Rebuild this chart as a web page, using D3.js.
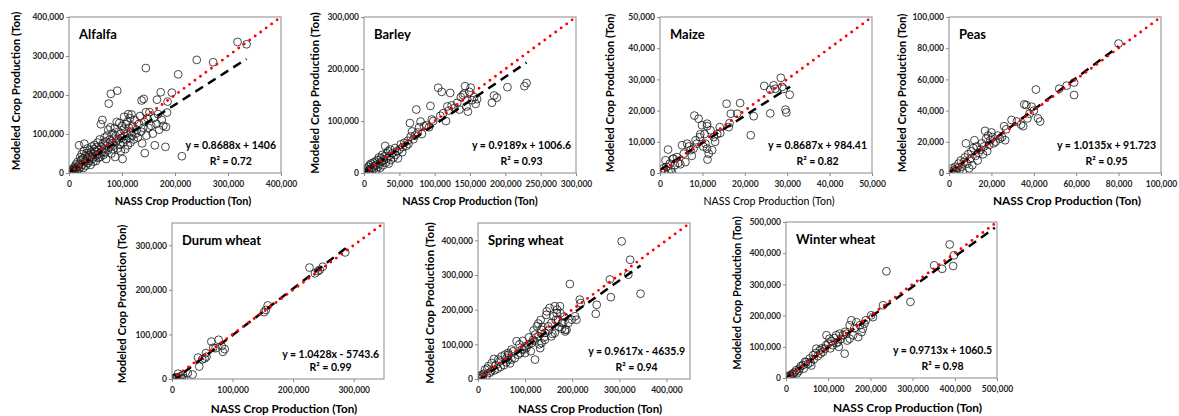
<!DOCTYPE html>
<html>
<head>
<meta charset="utf-8">
<script src="https://cdn.jsdelivr.net/npm/d3@7"></script>
<style>
  body { margin: 0; background: #fff; }
  svg text { font-family: Lato, "Open Sans", sans-serif; font-weight: bold; }
</style>
</head>
<body>
<script>

// points are [NASS, modeled] in thousand tons
var alfalfa = [[1,2],[3,1],[4,6],[5,3],[6,9],[7,4],[8,12],[9,7],[10,3],[11,16],[12,9],[13,22],[14,12],[15,5],[16,28],[17,17],[18,10],[19,71],[20,24],[21,40],[22,15],[23,33],[24,48],[25,21],[26,37],[27,13],[28,56],[29,75],[30,29],[31,43],[32,19],[33,51],[34,36],[35,63],[36,26],[37,45],[38,31],[39,58],[40,41],[41,21],[42,53],[43,68],[44,36],[45,48],[46,29],[47,61],[48,72],[49,42],[50,56],[51,31],[52,66],[53,46],[54,78],[55,39],[56,59],[57,50],[58,86],[59,41],[60,125],[61,68],[62,55],[63,136],[64,76],[65,46],[66,62],[67,91],[68,52],[69,81],[70,36],[71,70],[72,96],[73,58],[74,111],[75,178],[76,65],[77,86],[78,117],[79,203],[80,50],[81,76],[82,101],[83,61],[84,88],[85,71],[86,115],[87,41],[88,95],[89,80],[90,131],[91,211],[92,63],[93,106],[94,86],[95,128],[96,72],[97,100],[98,56],[99,90],[100,121],[101,36],[102,78],[103,111],[104,144],[105,95],[106,61],[107,125],[108,86],[109,101],[110,131],[111,71],[112,151],[113,116],[114,90],[115,141],[116,78],[117,106],[118,150],[119,96],[120,121],[122,86],[124,136],[126,101],[128,111],[130,91],[132,126],[134,146],[136,106],[137,186],[138,76],[140,116],[141,190],[142,131],[143,51],[145,156],[145,269],[146,96],[148,141],[150,116],[152,156],[155,121],[158,101],[160,141],[162,71],[165,126],[166,188],[168,151],[170,111],[173,207],[175,136],[178,121],[182,67],[183,118],[185,155],[186,183],[194,206],[206,253],[213,43],[241,290],[272,284],[318,336],[335,330]];

var barley = [[1,1],[2,4],[3,2],[4,8],[5,3],[6,12],[7,5],[8,15],[9,7],[10,18],[11,3],[12,10],[13,20],[14,8],[15,14],[16,22],[17,6],[18,16],[19,25],[20,12],[21,30],[22,18],[23,10],[24,28],[25,22],[26,35],[27,15],[28,25],[29,32],[30,52],[31,20],[32,38],[33,28],[34,42],[35,18],[36,33],[37,45],[38,25],[40,38],[42,30],[44,48],[45,35],[47,42],[48,28],[50,45],[52,55],[54,40],[55,50],[57,58],[60,52],[62,62],[63,56],[65,96],[66,70],[68,80],[70,65],[72,72],[74,122],[76,78],[78,88],[80,99],[82,75],[85,90],[88,92],[92,88],[94,129],[96,103],[98,100],[105,164],[108,110],[110,156],[112,115],[116,100],[118,128],[120,120],[122,154],[124,130],[128,125],[132,135],[135,122],[137,146],[140,150],[142,153],[143,167],[145,128],[147,118],[149,156],[151,164],[153,140],[156,146],[158,133],[160,142],[181,135],[184,149],[188,145],[203,165],[227,167],[230,173]];

var maize = [[0.3,0.3],[0.8,1.5],[1,0.2],[1.3,4.1],[1.5,2],[1.9,7.5],[2,0.5],[2.3,3],[2.6,1.2],[2.8,0.2],[3,4.5],[3.2,4.6],[3.5,2.5],[4,5.1],[4.3,3.2],[4.8,2.8],[5.2,8.9],[5.6,6.2],[6,3.5],[6.4,9.4],[6.8,8.5],[7.2,7.3],[7.5,5.5],[7.9,7.8],[8.1,18.4],[8.4,10.5],[8.7,9.4],[9.1,17.4],[9.4,11.5],[9.5,12.4],[9.9,15.3],[10.2,8.5],[10.5,12.5],[10.7,9.4],[11.1,15.8],[11.1,15],[11.1,7.8],[11.2,4.3],[11.5,6.2],[11.9,13.7],[12.3,7.3],[12.7,11.5],[13,10],[13.5,12.5],[14.1,14.7],[14.2,12.8],[15.7,22.2],[16.2,14.7],[16.4,16],[16.7,19],[18.2,19],[18.9,22.4],[21.4,12.1],[22.1,18.2],[24.6,27.9],[26,19.1],[26,26.7],[26.8,28.1],[27.2,27],[28.5,30.5],[28.8,27.6],[29.2,27],[29.6,20.3],[29.8,19.4],[30.6,25.1]];

var peas = [[1,1],[1.5,3],[2,0.5],[2.5,2],[3,4],[3.5,1],[4,3],[4.5,6],[5,2],[5.5,8],[6,4],[6.5,1],[7,7],[7.5,10],[8,19],[8.5,6],[9,12],[9.5,3],[10,9],[10.5,14],[11,5],[11.5,16],[12,21],[12.5,11],[13,17],[13.5,8],[14,13],[15,15],[15.5,19],[16,12],[16.5,17],[17,27],[17.5,22],[18,14],[18.5,24],[19,18],[19.5,21],[20,26],[20.5,23],[21,19],[22,20],[23,24],[24,22],[25,23],[26,30],[26.5,21],[27,28],[29.5,34],[32,33],[34,31],[35,30],[35.5,44],[36.5,43.5],[37,35],[38,38],[39,42.5],[40,40],[41,53.5],[42,35],[43,33],[52,54],[55.5,56],[59,58],[59,50],[80,83]];

var durum = [[1,1],[2,0.5],[3,2],[4,1],[5,3],[6,0.5],[7,2],[8,4],[9,1.5],[10,12],[12,3],[14,6],[16,1],[18,9],[20,2],[26,13],[34,10],[43,48],[45,28],[50,44],[54,46],[57,50],[56,58],[65,84],[68,70],[72,69],[77,88],[84,61],[87,67],[82,74],[152,150],[155,155],[158,165],[227,250],[236,237],[241,242],[244,245],[249,252],[286,284]];

var springWheat = [[1,3],[4,8],[5,2],[8,12],[10,6],[12,15],[15,27],[18,10],[20,30],[22,37],[25,18],[28,22],[29,46],[34,58],[35,25],[38,40],[42,30],[43,56],[45,50],[48,35],[50,65],[55,40],[57,70],[60,48],[61,61],[64,75],[64,56],[65,70],[68,45],[71,85],[71,56],[75,80],[78,60],[82,109],[85,70],[88,100],[90,75],[93,85],[95,110],[97,85],[100,94],[100,75],[103,90],[107,99],[108,120],[112,80],[114,104],[117,113],[118,140],[120,110],[121,128],[121,56],[125,152],[128,123],[128,160],[130,100],[132,89],[133,170],[135,142],[135,104],[137,150],[140,120],[142,133],[142,113],[145,185],[146,195],[149,152],[150,140],[152,205],[156,162],[156,123],[158,130],[160,181],[163,210],[163,133],[165,170],[167,190],[168,200],[170,171],[172,150],[174,210],[175,190],[178,162],[178,145],[181,162],[183,180],[185,137],[185,142],[188,142],[192,162],[195,274],[199,171],[206,181],[209,171],[216,229],[218,219],[250,188],[252,214],[280,287],[282,236],[305,397],[319,301],[323,344],[345,246]];

var winterWheat = [[2,1],[5,3],[8,6],[9,9],[12,4],[15,12],[17,14],[20,18],[24,25],[26,15],[30,22],[32,30],[35,38],[40,41],[42,30],[45,52],[48,51],[52,45],[56,62],[58,50],[60,40],[64,73],[66,60],[70,80],[72,94],[75,70],[80,89],[82,78],[85,95],[88,84],[92,94],[95,105],[96,137],[100,110],[103,126],[105,95],[108,118],[111,105],[115,128],[119,137],[120,112],[123,115],[125,100],[127,142],[130,125],[135,137],[139,78],[140,148],[143,142],[145,120],[151,169],[151,126],[155,185],[159,137],[162,160],[167,179],[171,131],[175,169],[179,147],[182,158],[186,174],[189,185],[202,201],[206,195],[230,233],[238,342],[295,244],[351,361],[370,350],[388,428],[396,359],[398,393]];

var cropNames = ["Alfalfa", "Barley", "Maize", "Peas", "Durum wheat", "Spring wheat", "Winter wheat"];
var cropPoints = [alfalfa, barley, maize, peas, durum, springWheat, winterWheat];
var slopes = [0.8688, 0.9189, 0.8687, 1.0135, 1.0428, 0.9617, 0.9713];
var intercepts = [1406, 1006.6, 984.41, 91.723, -5743.6, -4635.9, 1060.5];
var equations = ["y = 0.8688x + 1406", "y = 0.9189x + 1006.6", "y = 0.8687x + 984.41", "y = 1.0135x + 91.723",
                 "y = 1.0428x - 5743.6", "y = 0.9617x - 4635.9", "y = 0.9713x + 1060.5"];
var r2Values = ["0.72", "0.93", "0.82", "0.95", "0.99", "0.94", "0.98"];
var axisMax = [400000, 300000, 50000, 100000, 350000, 450000, 500000];
var fitEnds = [335000, 230000, 30700, 80000, 287000, 345000, 495000];
var xTickValues = [
  [0, 100000, 200000, 300000, 400000],
  [0, 50000, 100000, 150000, 200000, 250000, 300000],
  [0, 10000, 20000, 30000, 40000, 50000],
  [0, 20000, 40000, 60000, 80000, 100000],
  [0, 100000, 200000, 300000],
  [0, 100000, 200000, 300000, 400000],
  [0, 100000, 200000, 300000, 400000, 500000]
];
var yTickValues = [
  [0, 100000, 200000, 300000, 400000],
  [0, 100000, 200000, 300000],
  [0, 10000, 20000, 30000, 40000, 50000],
  [0, 20000, 40000, 60000, 80000, 100000],
  [0, 100000, 200000, 300000],
  [0, 100000, 200000, 300000, 400000],
  [0, 100000, 200000, 300000, 400000, 500000]
];

// plot area of each panel plus where its axis titles sit
var layout = [
  {l: 69,  t: 17,  w: 212, h: 156, xs: 8,  xf: 10.9, xy: 32, yx: 16,  ys: -4, yf: 11.4, eqGap: 16},
  {l: 364, t: 17,  w: 212, h: 156, xs: 0,  xf: 10.8, xy: 32, yx: 315, ys: -2, yf: 11.6, eqGap: 16},
  {l: 660, t: 17,  w: 212, h: 156, xs: 3,  xf: 10.6, xy: 32, yx: 610, ys: -2, yf: 11.4, eqGap: 16},
  {l: 949, t: 17,  w: 212, h: 156, xs: 12, xf: 11.8, xy: 32, yx: 902, ys: -2, yf: 11.4, eqGap: 16},
  {l: 172, t: 223, w: 212, h: 156, xs: 6,  xf: 11.7, xy: 34, yx: 122, ys: 3,  yf: 11.4, eqGap: 13},
  {l: 478, t: 223, w: 212, h: 156, xs: 6,  xf: 11.5, xy: 34, yx: 430, ys: 2,  yf: 11.6, eqGap: 16},
  {l: 786, t: 222, w: 211, h: 156, xs: 16, xf: 11.9, xy: 34, yx: 737, ys: -7, yf: 11,   eqGap: 16}
];

var svg = d3.select("body").append("svg")
    .attr("width", 1179)
    .attr("height", 416);

var fmt = d3.format(",");

cropNames.forEach(function(name, i) {
  var p = layout[i];
  var g = svg.append("g").attr("transform", "translate(" + p.l + "," + p.t + ")");

  var x = d3.scaleLinear().domain([0, axisMax[i]]).range([0, p.w]);
  var y = d3.scaleLinear().domain([0, axisMax[i]]).range([p.h, 0]);

  g.append("clipPath").attr("id", "clip" + i)
    .append("rect").attr("width", p.w).attr("height", p.h);

  // axes
  var xa = g.append("g")
      .attr("transform", "translate(0," + p.h + ")")
      .call(d3.axisBottom(x).tickValues(xTickValues[i]).tickSize(3).tickPadding(5).tickFormat(fmt));
  var ya = g.append("g")
      .call(d3.axisLeft(y).tickValues(yTickValues[i]).tickSize(3).tickPadding(2).tickFormat(fmt));
  [xa, ya].forEach(function(a) {
    a.select(".domain").remove();
    a.selectAll("line").attr("stroke", "#898989");
    a.selectAll("text").attr("font-size", 8.5).attr("fill", "#262626");
  });

  var plot = g.append("g").attr("clip-path", "url(#clip" + i + ")");

  plot.selectAll("circle")
    .data(cropPoints[i])
    .enter().append("circle")
      .attr("cx", function(d) { return x(d[0] * 1000); })
      .attr("cy", function(d) { return y(d[1] * 1000); })
      .attr("r", 3.9)
      .attr("fill", "none")
      .attr("stroke", "#1a1a1a")
      .attr("stroke-width", 0.8);

  // regression line
  var line = d3.line()
      .x(function(d) { return x(d); })
      .y(function(d) { return y(slopes[i] * d + intercepts[i]); });
  plot.append("path")
      .datum([0, fitEnds[i]])
      .attr("d", line)
      .attr("fill", "none")
      .attr("stroke", "#000")
      .attr("stroke-width", 2.5)
      .attr("stroke-dasharray", "9,6");

  // 1:1 line
  plot.append("path")
      .datum([0, axisMax[i]])
      .attr("d", d3.line().x(function(d) { return x(d); }).y(function(d) { return y(d); }))
      .attr("fill", "none")
      .attr("stroke", "#ff0000")
      .attr("stroke-width", 2.9)
      .attr("stroke-linecap", "round")
      .attr("stroke-dasharray", "0,6.8");

  g.append("rect")
      .attr("width", p.w).attr("height", p.h)
      .attr("fill", "none")
      .attr("stroke", "#898989")
      .attr("stroke-width", 1);

  g.append("text")
      .attr("x", 10).attr("y", 22)
      .attr("font-size", 13)
      .attr("fill", "#000")
      .text(name);

  var eq = g.append("text")
      .attr("x", p.w - 5).attr("y", p.h - 8 - p.eqGap)
      .attr("text-anchor", "end")
      .attr("font-size", 10.5)
      .attr("fill", "#000")
      .text(equations[i]);
  var eqW = eq.node().getComputedTextLength();
  g.append("text")
      .attr("x", p.w - 5 - eqW / 2).attr("y", p.h - 8)
      .attr("text-anchor", "middle")
      .attr("font-size", 10.5)
      .attr("fill", "#000")
      .text("R\u00b2 = " + r2Values[i]);

  // axis titles
  g.append("text")
      .attr("x", p.w / 2 + p.xs).attr("y", p.h + p.xy)
      .attr("text-anchor", "middle")
      .attr("font-size", p.xf)
      .style("font-weight", name === "Maize" ? "normal" : "bold")
      .attr("fill", "#000")
      .text("NASS Crop Production (Ton)");
  g.append("text")
      .attr("transform", "translate(" + (p.yx - p.l + 4) + "," + (p.h / 2 + p.ys) + ") rotate(-90)")
      .attr("text-anchor", "middle")
      .attr("font-size", p.yf)
      .attr("fill", "#000")
      .text("Modeled Crop Production (Ton)");
});

</script>
</body>
</html>
